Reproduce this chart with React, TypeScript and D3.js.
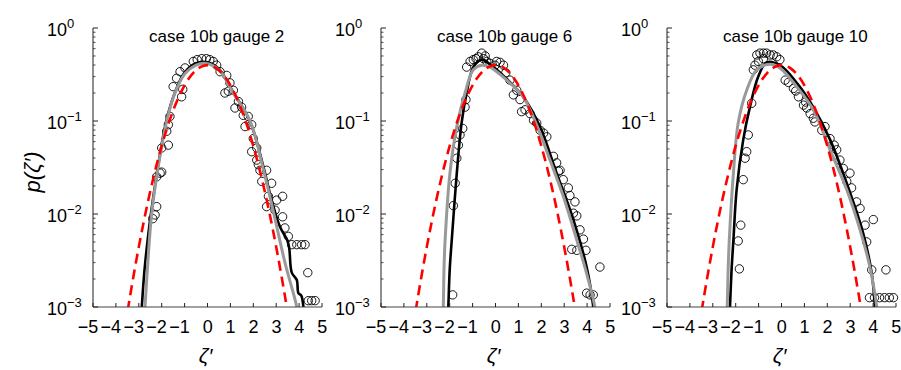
import React from "react";
import * as d3 from "d3";

// ---------- data ----------
const X_TICKS = [-5, -4, -3, -2, -1, 0, 1, 2, 3, 4, 5];
const Y_TICKS = [1e-3, 1e-2, 1e-1, 1];
const Y_TICK_EXP = ["\u22123", "\u22122", "\u22121", "0"];
const TITLES = ["case 10b gauge 2", "case 10b gauge 6", "case 10b gauge 10"];

// Gaussian reference (red dashed)
const GAUSS_X = [-3.6, -3.4, -3.2, -3.0, -2.8, -2.6, -2.4, -2.2, -2.0, -1.8, -1.6, -1.4, -1.2, -1.0, -0.8, -0.6, -0.4, -0.2, 0, 0.2, 0.4, 0.6, 0.8, 1.0, 1.2, 1.4, 1.6, 1.8, 2.0, 2.2, 2.4, 2.6, 2.8, 3.0, 3.2, 3.4, 3.6];
const GAUSS_P = [0.000612, 0.00123, 0.00238, 0.00443, 0.00792, 0.0136, 0.0224, 0.0355, 0.054, 0.079, 0.1109, 0.1497, 0.1942, 0.242, 0.2897, 0.3332, 0.3683, 0.391, 0.3989, 0.391, 0.3683, 0.3332, 0.2897, 0.242, 0.1942, 0.1497, 0.1109, 0.079, 0.054, 0.0355, 0.0224, 0.0136, 0.00792, 0.00443, 0.00238, 0.00123, 0.000612];

// Panel 1 (gauge 2)
const GRAY1_X = [-2.76, -2.73, -2.6, -2.44, -2.15, -1.78, -1.42, -0.98, -0.5, -0.1, 0.5, 1.12, 1.86, 2.44, 2.9, 3.38, 3.9, 3.95];
const GRAY1_P = [0.00079, 0.001, 0.00316, 0.01, 0.0324, 0.1, 0.2, 0.324, 0.398, 0.417, 0.355, 0.2, 0.1, 0.0302, 0.01, 0.00302, 0.001, 0.00079];
const BLACK1_X = [-2.9, -2.87, -2.75, -2.5, -2.2, -1.8, -1.4, -1.0, -0.5, 0, 0.5, 1.1, 1.85, 2.45, 2.8, 3.17, 3.48, 3.57, 3.68, 3.9, 3.97, 4.1, 4.19, 4.25];
const BLACK1_P = [0.00079, 0.001, 0.00251, 0.00891, 0.0282, 0.1, 0.209, 0.331, 0.417, 0.427, 0.363, 0.209, 0.1, 0.0316, 0.0141, 0.00724, 0.00525, 0.00427, 0.00234, 0.00195, 0.00141, 0.00132, 0.001, 0.00079];
const DOTS1_X = [-0.62, -0.45, -0.25, -0.05, 0.1, 0.25, -1.2, -0.98, -1.35, -1.08, -1.13, -1.5, -1.64, -1.71, -1.78, -1.71, -2.0, -2.07, -2.22, -2.0, -2.22, -2.29, -2.39, 0.4, 0.55, 0.84, 0.98, 0.91, 1.13, 1.35, 1.49, 1.78, 1.93, 2.0, 1.93, 2.15, 2.22, 2.29, 2.58, 2.37, 2.8, 2.66, 2.58, 3.02, 3.28, 2.95, 3.28, 3.38, 3.53, 3.68, 3.9, 4.11, 4.26, 4.38, 4.4, 4.55, 4.7, 0.76, 1.2, 1.56, 1.64, 2.15];
const DOTS1_P = [0.437, 0.457, 0.468, 0.468, 0.457, 0.437, 0.339, 0.372, 0.288, 0.219, 0.182, 0.234, 0.112, 0.0912, 0.0776, 0.055, 0.0513, 0.0275, 0.0251, 0.0282, 0.012, 0.00977, 0.00891, 0.398, 0.339, 0.309, 0.257, 0.209, 0.214, 0.162, 0.141, 0.112, 0.0912, 0.0646, 0.0468, 0.038, 0.0339, 0.0295, 0.0295, 0.0224, 0.0214, 0.0155, 0.012, 0.0141, 0.0155, 0.011, 0.00933, 0.00708, 0.00575, 0.00468, 0.00468, 0.00468, 0.00468, 0.00234, 0.00117, 0.00117, 0.00117, 0.2, 0.138, 0.115, 0.0871, 0.0513];

// Panel 2 (gauge 6)
const GRAY2_X = [-2.3, -2.28, -2.25, -2.2, -1.99, -1.69, -1.33, -0.97, -0.6, -0.24, 0.49, 1.21, 1.94, 2.38, 2.96, 3.55, 3.98, 4.34, 4.38];
const GRAY2_P = [0.00079, 0.001, 0.00251, 0.00525, 0.0275, 0.0871, 0.2, 0.355, 0.398, 0.38, 0.275, 0.182, 0.0741, 0.038, 0.0155, 0.00525, 0.00229, 0.001, 0.00079];
const BLACK2_X = [-2.08, -2.06, -2.0, -1.91, -1.69, -1.48, -1.26, -0.97, -0.6, -0.24, 0.5, 1.21, 1.94, 2.67, 3.4, 3.98, 4.27, 4.3];
const BLACK2_P = [0.00079, 0.001, 0.00251, 0.00525, 0.0275, 0.0955, 0.2, 0.38, 0.457, 0.407, 0.282, 0.182, 0.0871, 0.0275, 0.00871, 0.00269, 0.001, 0.00079];
const DOTS2_X = [-1.26, -1.11, -0.97, -0.75, -0.6, -0.52, -0.38, -0.24, -0.02, 0.2, -0.85, -0.45, 0.05, 0.35, -1.29, -1.33, -1.43, -1.55, -1.62, -1.69, -1.76, -1.84, -1.87, 0.63, 0.93, 1.07, 1.29, 1.51, 1.66, 1.95, 2.24, 2.53, 2.67, 2.82, 2.96, 3.18, 3.25, 3.47, 3.4, 3.55, 3.69, 3.84, 3.33, 3.55, 3.95, 4.56, 3.98, 4.13, 4.27, 0.78, 1.14, 2.75, 2.1, 1.8, 0.45];
const DOTS2_P = [0.38, 0.437, 0.457, 0.49, 0.537, 0.468, 0.437, 0.417, 0.398, 0.427, 0.468, 0.5, 0.437, 0.398, 0.17, 0.141, 0.0832, 0.0708, 0.055, 0.0398, 0.0214, 0.0123, 0.00135, 0.275, 0.214, 0.17, 0.132, 0.12, 0.102, 0.0794, 0.0676, 0.0417, 0.0355, 0.0295, 0.0234, 0.0191, 0.0158, 0.0135, 0.0102, 0.00955, 0.00676, 0.00537, 0.00417, 0.00407, 0.00407, 0.00269, 0.00141, 0.00135, 0.00135, 0.191, 0.126, 0.0288, 0.0741, 0.095, 0.33];

// Panel 3 (gauge 10)
const GRAY3_X = [-2.39, -2.37, -2.33, -2.28, -2.1, -1.89, -1.52, -1.08, -0.5, -0.07, 0.66, 1.39, 2.12, 2.85, 3.43, 3.86, 4.16, 4.2];
const GRAY3_P = [0.00079, 0.001, 0.00251, 0.00525, 0.0275, 0.0955, 0.214, 0.355, 0.407, 0.372, 0.234, 0.132, 0.049, 0.0182, 0.00676, 0.00269, 0.001, 0.00079];
const BLACK3_X = [-2.27, -2.25, -2.18, -2.1, -1.96, -1.67, -1.38, -1.01, -0.65, -0.07, 0.7, 1.39, 2.12, 2.85, 3.57, 3.94, 4.08, 4.1];
const BLACK3_P = [0.00079, 0.001, 0.00251, 0.00525, 0.0182, 0.0631, 0.141, 0.302, 0.427, 0.398, 0.251, 0.141, 0.0631, 0.0214, 0.00617, 0.00229, 0.001, 0.00079];
const DOTS3_X = [-1.08, -0.94, -0.79, -0.65, -0.5, -0.36, -0.21, -0.79, -1.01, -1.16, -1.23, -0.07, -1.3, -1.45, -1.52, -1.59, -1.67, -1.78, -1.89, -1.84, 0.16, 0.52, 0.74, 0.96, 1.1, 1.39, 1.46, 1.9, 1.76, 2.12, 2.41, 2.55, 2.7, 2.99, 2.85, 3.06, 3.28, 3.43, 4.01, 3.65, 3.72, 3.94, 4.56, 3.84, 4.06, 4.28, 4.5, 4.71, 4.89, 0.3, 0.62, 1.25, 2.3, 1.05];
const DOTS3_P = [0.513, 0.537, 0.537, 0.537, 0.513, 0.513, 0.49, 0.468, 0.437, 0.398, 0.355, 0.457, 0.155, 0.0708, 0.0468, 0.0398, 0.0234, 0.00759, 0.00513, 0.00257, 0.275, 0.224, 0.182, 0.148, 0.138, 0.107, 0.0977, 0.0871, 0.0794, 0.0646, 0.049, 0.038, 0.0309, 0.0275, 0.0224, 0.0191, 0.0135, 0.0115, 0.00871, 0.00759, 0.00501, 0.00251, 0.00251, 0.00126, 0.00126, 0.00126, 0.00126, 0.00126, 0.00126, 0.26, 0.21, 0.12, 0.055, 0.16];

// ---------- layout ----------
const W = 901;
const H = 370;
const PANEL_LEFTS = [93, 381, 667];
const PANEL_W = 229;
const TOP = 28;
const BOTTOM = 307;
const FONT = "'Liberation Sans', Arial, Helvetica, sans-serif";

const zip = (xs: number[], ps: number[]) => xs.map((x, i) => [x, ps[i]] as [number, number]);

const PANELS = [
  { gray: zip(GRAY1_X, GRAY1_P), black: zip(BLACK1_X, BLACK1_P), dots: zip(DOTS1_X, DOTS1_P) },
  { gray: zip(GRAY2_X, GRAY2_P), black: zip(BLACK2_X, BLACK2_P), dots: zip(DOTS2_X, DOTS2_P) },
  { gray: zip(GRAY3_X, GRAY3_P), black: zip(BLACK3_X, BLACK3_P), dots: zip(DOTS3_X, DOTS3_P) },
];
const GAUSS = zip(GAUSS_X, GAUSS_P);

function Panel({ idx }: { idx: number }) {
  const left = PANEL_LEFTS[idx];
  const x = d3.scaleLinear().domain([-5, 5]).range([left, left + PANEL_W]);
  const y = d3.scaleLog().domain([1e-3, 1]).range([BOTTOM, TOP]);
  const smooth = d3
    .line<[number, number]>()
    .x((d) => x(d[0]))
    .y((d) => y(d[1]))
    .curve(d3.curveCatmullRom.alpha(0.5));
  const data = PANELS[idx];
  const clipId = `clip${idx}`;
  const minor: number[] = [];
  for (let e = -3; e < 0; e++) for (let m = 2; m <= 9; m++) minor.push(m * Math.pow(10, e));

  return (
    <g>
      <defs>
        <clipPath id={clipId}>
          <rect x={left} y={TOP - 20} width={PANEL_W + 10} height={BOTTOM - TOP + 20} />
        </clipPath>
      </defs>
      <g clipPath={`url(#${clipId})`}>
        {data.dots.map((d, i) => (
          <circle key={i} cx={x(d[0])} cy={y(d[1])} r={4.2} fill="none" stroke="#000" strokeWidth={0.9} />
        ))}
        <path d={smooth(data.black) || ""} fill="none" stroke="#000" strokeWidth={2.6} />
        <path d={smooth(data.gray) || ""} fill="none" stroke="#999" strokeWidth={3} />
        <path d={smooth(GAUSS) || ""} fill="none" stroke="#ff0000" strokeWidth={2.6} strokeDasharray="10,6" />
      </g>
      {/* axes */}
      <line x1={left} x2={left} y1={TOP} y2={BOTTOM} stroke="#444" strokeWidth={1.2} />
      <line x1={left} x2={left + PANEL_W} y1={BOTTOM} y2={BOTTOM} stroke="#444" strokeWidth={1.2} />
      {X_TICKS.map((t) => (
        <g key={t}>
          <line x1={x(t)} x2={x(t)} y1={BOTTOM} y2={BOTTOM - 4} stroke="#222" strokeWidth={1} />
          <text x={x(t) + 5.2} y={333} textAnchor="end" fontSize={18} fontFamily={FONT} fill="#000">
            {t < 0 ? `\u2212${-t}` : `${t}`}
          </text>
        </g>
      ))}
      {Y_TICKS.map((t, i) => (
        <g key={t}>
          <line x1={left} x2={left + 5} y1={y(t)} y2={y(t)} stroke="#222" strokeWidth={1} />
          <text x={left - 46} y={y(t) + 8} fontSize={18} fontFamily={FONT} fill="#000">
            10
            <tspan dy={-8.5} fontSize={13}>
              {Y_TICK_EXP[i]}
            </tspan>
          </text>
        </g>
      ))}
      {minor.map((t) => (
        <line key={t} x1={left} x2={left + 2.5} y1={y(t)} y2={y(t)} stroke="#222" strokeWidth={0.8} />
      ))}
      <text x={x(-2.55)} y={42} fontSize={17} fontFamily={FONT} fill="#000">
        {TITLES[idx]}
      </text>
      <text x={x(0) - 2} y={363} textAnchor="middle" fontSize={21} fontStyle="italic" fontFamily={FONT} fill="#000">
        {"\u03b6\u2032"}
      </text>
    </g>
  );
}

export default function App() {
  return (
    <svg
      width={W}
      height={H}
      viewBox={`0 0 ${W} ${H}`}
      style={{ position: "absolute", left: 0, top: 0, background: "#fff" }}
    >
      <rect width={W} height={H} fill="#fff" />
      {[0, 1, 2].map((i) => (
        <Panel key={i} idx={i} />
      ))}
      <text
        transform="translate(40,172) rotate(-90)"
        textAnchor="middle"
        fontSize={22}
        fontStyle="italic"
        fontFamily={FONT}
        fill="#000"
      >
        {"p(\u03b6\u2032)"}
      </text>
    </svg>
  );
}
